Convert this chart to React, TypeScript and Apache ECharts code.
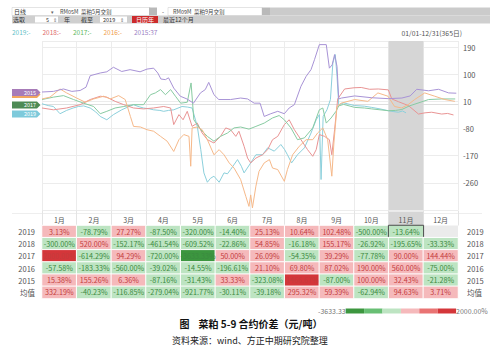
import React, { useEffect, useRef } from 'react';
import * as echarts from 'echarts';

const MONTHS = ['1月', '2月', '3月', '4月', '5月', '6月', '7月', '8月', '9月', '10月', '11月', '12月'];
const ROWS = ['2019', '2018', '2017', '2016', '2015', '均值'];
const P2019 = [3.13, -78.79, 27.27, -87.5, -320, -14.4, 25.13, 10.64, 102.48, -500, -13.64, null];
const P2018 = [-300, 520, -152.17, -461.54, -609.52, -22.86, 54.85, -16.18, 155.17, -26.92, -195.65, -33.33];
const P2017 = [2000, -614.29, 94.29, -720, -3633.33, 50, 26.09, -54.35, 39.29, -77.78, 90, 144.44];
const P2016 = [-57.58, -183.33, -560, -39.02, -14.55, -196.61, 21.1, 69.8, 87.02, 190, 560, -75];
const P2015 = [15.38, 155.26, 6.36, -87.16, -31.43, 33.33, -323.08, 1466.67, -87, 100, 32.43, -21.28];
const PAVG = [332.19, -40.23, -116.85, -279.04, -921.77, -30.11, -39.18, 295.32, 59.39, -62.94, 94.63, 3.71];

const YEARS = ['2019', '2018', '2017', '2016', '2015'];
const LEGEND_VALUES = ['-', '-', '-', '-', '37'];
const LINE_COLORS = ['#8cd0dc', '#e99494', '#88cba2', '#f6b98a', '#a893d6'];
const LEGEND_COLORS = ['#5fbfc8', '#e06b6b', '#5db85d', '#f0a050', '#9b7fc4'];

// x = month position (0 = 1 Jan, 12 = 31 Dec), y = spread (元/吨)
const S2019 = [[0, 2], [0.18, -4], [0.33, -7], [0.52, -31], [0.71, -20], [0.9, -12], [1.05, -7], [1.2, -5], [1.39, -12], [1.55, -25], [1.68, -40], [1.87, -51], [2.06, -34], [2.3, -18], [2.45, -10], [2.64, -1], [2.8, -8], [2.93, -12], [3.1, -15], [3.22, -18], [3.4, -20], [3.51, -23], [3.65, -20], [3.8, -18], [4.04, -7], [4.2, -9], [4.33, -12], [4.48, -73], [4.58, -150], [4.67, -227], [4.77, -258], [4.86, -245], [4.96, -238], [5.11, -258], [5.25, -227], [5.35, -230], [5.44, -216], [5.64, -183], [5.75, -205], [5.83, -227], [6.02, -194], [6.17, -167], [6.36, -167], [6.51, -144], [6.7, -155], [6.89, -133], [7.0, -150], [7.08, -167], [7.2, -194], [7.37, -167], [7.57, -144], [7.76, -95], [7.91, -51], [8.0, -34], [8.05, -249], [8.11, -40], [8.22, -18], [8.32, 16], [8.39, 137], [8.46, 165], [8.51, 93], [8.56, -2], [8.7, 5], [9.02, -4], [9.3, -6], [9.51, -10], [9.75, -15], [9.99, -21], [10.15, -24], [10.28, -26], [10.4, -22], [10.5, -28]];
const S2018 = [[0, -12], [0.33, -18], [0.71, -12], [1.1, -1], [1.39, 16], [1.68, 27], [1.87, 24], [2.11, 10], [2.36, -1], [2.64, -12], [2.93, -15], [3.22, -12], [3.51, -7], [3.71, -12], [3.8, -67], [3.95, -34], [4.07, -51], [4.19, -23], [4.33, -73], [4.48, -62], [4.62, -95], [4.77, -117], [4.96, -128], [5.15, -106], [5.3, -78], [5.44, -84], [5.59, -106], [5.68, -89], [5.83, -139], [5.93, -178], [6.02, -194], [6.17, -178], [6.36, -167], [6.51, -150], [6.65, -117], [6.8, -106], [6.99, -67], [7.13, -51], [7.28, -84], [7.47, -117], [7.66, -150], [7.81, -172], [7.91, -150], [8.0, -100], [8.15, -106], [8.29, -117], [8.36, -167], [8.44, -84], [8.53, 18], [8.73, 51], [9.0, 55], [9.21, 56], [9.45, 50], [9.7, 51], [9.99, 48], [10.09, 18], [10.28, 9], [10.57, -4], [10.86, -32], [11.05, -28], [11.24, -26], [11.53, -32], [11.7, -30], [11.87, -35]];
const S2017 = [[0, 16], [0.33, 24], [0.62, 29], [0.91, 16], [1.2, 4], [1.49, -7], [1.68, -31], [1.87, -23], [2.11, -12], [2.36, -7], [2.64, -1], [2.93, -1], [3.13, 32], [3.27, 38], [3.42, 49], [3.56, 32], [3.71, 49], [3.85, 27], [4.0, 4], [4.19, 7], [4.3, 71], [4.38, -51], [4.58, -84], [4.77, -106], [4.96, -122], [5.15, -106], [5.35, -95], [5.54, -78], [5.73, -75], [5.97, -82], [6.17, -73], [6.41, -62], [6.65, -45], [6.84, -37], [6.99, -51], [7.18, -78], [7.37, -117], [7.57, -111], [7.81, -78], [8.0, -18], [8.1, -12], [8.2, -62], [8.34, -45], [8.48, -23], [8.56, -5], [8.7, 0], [9.02, -10], [9.3, -12], [9.51, -15], [9.99, -21], [10.2, -20], [10.38, -17], [10.6, -5], [10.76, 1], [11.15, 16], [11.53, 18], [11.92, 18]];
const S2016 = [[0, 18], [0.23, 24], [0.52, 51], [0.71, 38], [1.0, 21], [1.25, 7], [1.49, 18], [1.78, 27], [1.97, 18], [2.21, 29], [2.4, 16], [2.55, -40], [2.64, -73], [2.84, -75], [3.03, -84], [3.22, -89], [3.42, -106], [3.61, -122], [3.8, -156], [3.95, -117], [4.09, -100], [4.24, -106], [4.29, -205], [4.33, -78], [4.48, -75], [4.62, -84], [4.77, -117], [4.96, -167], [5.11, -150], [5.25, -167], [5.4, -194], [5.54, -211], [5.73, -249], [5.88, -305], [5.97, -338], [6.02, -300], [6.07, -343], [6.17, -271], [6.26, -222], [6.41, -194], [6.56, -183], [6.65, -211], [6.8, -216], [6.99, -255], [7.08, -216], [7.23, -167], [7.42, -139], [7.62, -117], [7.81, -117], [7.95, -95], [8.1, -78], [8.24, -117], [8.36, -238], [8.42, -128], [8.51, -7], [8.63, 4], [9.02, 16], [9.4, 10], [9.69, 38], [9.98, 27], [10.17, -7], [10.37, -12], [10.56, -1], [10.75, 16], [11.04, 38], [11.33, 27], [11.62, 16], [11.91, 10]];
const S2015 = [[0, 41], [0.33, 43], [0.62, 51], [0.86, 43], [1.1, 46], [1.27, 57], [1.39, 95], [1.68, 104], [1.87, 108], [2.06, 123], [2.3, 109], [2.54, 115], [2.83, 108], [3.03, 117], [3.22, 120], [3.34, 104], [3.43, 84], [3.56, 82], [3.65, 88], [3.8, 54], [3.99, 27], [4.18, 18], [4.37, 4], [4.57, 38], [4.71, 49], [4.81, 73], [4.96, 32], [5.1, 16], [5.44, 16], [5.73, 21], [5.93, 18], [6.12, 4], [6.29, 4], [6.41, -40], [6.6, -31], [6.8, -23], [6.99, -31], [7.13, -12], [7.28, -1], [7.47, 60], [7.62, 93], [7.76, 115], [7.86, 148], [8.0, 198], [8.2, 198], [8.29, 120], [8.37, 131], [8.44, 165], [8.51, 126], [8.56, 18], [8.64, 21], [9.02, 28], [9.51, 22], [9.99, 19], [10.38, 21], [10.62, 28], [10.81, 50], [11.15, 45], [11.44, 50], [11.73, 38], [11.95, 37]];
const SERIES = [S2019, S2018, S2017, S2016, S2015];

const Y_MIN = -350;
const Y_MAX = 210;
const Y_STEP = 90;

const TABLE = [P2019, P2018, P2017, P2016, P2015, PAVG];

const FONT = '"Noto Sans CJK SC", "Noto Sans", sans-serif';

function txt(text: string, x: number, y: number, size: number, fill: string, extra: any = {}) {
  return {
    type: 'text',
    silent: true,
    style: { text, x, y, fontSize: size, fontFamily: FONT, fill, textVerticalAlign: 'middle', ...extra },
  };
}

function tag(label: string, y: number, color: string) {
  const children: any[] = [
    { type: 'polygon', shape: { points: [[12, y - 3.5], [37, y - 3.5], [40.5, y], [37, y + 3.5], [12, y + 3.5]] }, style: { fill: color } },
  ];
  if (label) children.push(txt(label, 30, y, 5.5, '#fff', { textAlign: 'center' }));
  return { type: 'group', silent: true, children };
}

export default function App() {
  const ref = useRef<HTMLDivElement>(null);
  useEffect(() => {
    if (!ref.current) return;
    const chart = echarts.init(ref.current, undefined, { renderer: 'svg' });

    const heatData: any[] = [];
    TABLE.forEach((row, r) => {
      row.forEach((v, c) => {
        if (v == null) return;
        const item: any = { value: [c, r, v], label: { color: v >= 0 ? '#c43c3c' : '#3b8a40' } };
        if (r === 0 && c === 10) item.itemStyle = { borderColor: '#4d4d4d', borderWidth: 1 };
        heatData.push(item);
      });
    });

    const lineSeries = SERIES.map((data, i) => ({
      name: YEARS[i],
      type: 'line',
      xAxisIndex: 0,
      yAxisIndex: 0,
      data,
      showSymbol: false,
      symbol: 'none',
      silent: true,
      z: 3,
      lineStyle: { width: 1, color: LINE_COLORS[i] },
      itemStyle: { color: LINE_COLORS[i] },
    }));

    const option: any = {
      animation: false,
      textStyle: { fontFamily: FONT },
      grid: [
        { left: 42, right: 42, top: 41, height: 169 },
        { left: 42, right: 42, top: 225.5, height: 73, show: true, backgroundColor: '#ebebeb', borderWidth: 0 },
      ],
      legend: {
        left: 7,
        top: 28.5,
        padding: 0,
        itemWidth: 0,
        itemHeight: 0,
        itemGap: 7,
        selectedMode: false,
        data: YEARS.map((y, i) => ({ name: y, icon: 'rect', textStyle: { color: LEGEND_COLORS[i], fontSize: 6.5 } })),
        formatter: (name: string) => name + ':' + LEGEND_VALUES[YEARS.indexOf(name)],
      },
      xAxis: [
        {
          type: 'value', gridIndex: 0, min: 0, max: 12, interval: 1,
          axisLabel: { show: false }, axisTick: { show: false },
          axisLine: { show: true, lineStyle: { color: '#dedede' } },
          splitLine: { show: true, lineStyle: { color: '#ececec' } },
        },
        {
          type: 'category', gridIndex: 1, data: MONTHS, position: 'top',
          axisLine: { show: false },
          axisTick: { show: true, length: 15, lineStyle: { color: '#e4e4e4' } },
          axisLabel: {
            margin: 0, interval: 0,
            formatter: (v: string) => (v === '11月' ? `{hl|${v}}` : `{n|${v}}`),
            rich: {
              hl: { backgroundColor: '#d6d6d6', width: 34.6, height: 13, lineHeight: 13, padding: [2, 0, 0, 0], align: 'center', fontSize: 7, color: '#555', fontFamily: FONT },
              n: { width: 34.6, height: 13, lineHeight: 13, padding: [2, 0, 0, 0], align: 'center', fontSize: 7, color: '#555', fontFamily: FONT },
            },
          },
        },
      ],
      yAxis: [
        {
          type: 'value', gridIndex: 0, position: 'right', min: Y_MIN, max: Y_MAX, interval: Y_STEP,
          axisLine: { show: false }, axisTick: { show: false },
          splitLine: { show: true, lineStyle: { color: '#ececec' } },
          axisLabel: { fontSize: 7.5, color: '#555', margin: 5, showMinLabel: false, showMaxLabel: false },
        },
        {
          type: 'category', gridIndex: 1, data: ROWS, inverse: true,
          axisLine: { show: false }, axisTick: { show: false },
          axisLabel: { fontSize: 7.5, color: '#555', margin: 7 },
        },
        {
          type: 'category', gridIndex: 1, data: ROWS, inverse: true, position: 'right',
          axisLine: { show: false }, axisTick: { show: false },
          axisLabel: { fontSize: 7.5, color: '#555', margin: 9 },
        },
      ],
      visualMap: {
        type: 'piecewise',
        seriesIndex: 6,
        dimension: 2,
        orient: 'horizontal',
        left: 318,
        top: 307.5,
        padding: 0,
        itemWidth: 18.4,
        itemHeight: 5,
        itemGap: 0,
        itemSymbol: 'rect',
        textGap: 1,
        showLabel: false,
        selectedMode: false,
        text: ['2000.00%', '-3633.33'],
        textStyle: { fontSize: 7, color: '#777' },
        pieces: [
          { gte: -4000, lt: -2422, color: '#3c963f' },
          { gte: -2422, lt: -1211, color: '#68bf74' },
          { gte: -1211, lt: 0, color: '#bde4c2' },
          { gte: 0, lt: 667, color: '#f5b9bb' },
          { gte: 667, lt: 1333, color: '#e97373' },
          { gte: 1333, lte: 2100, color: '#d4363a' },
        ],
      },
      series: [
        ...lineSeries,
        {
          type: 'line', xAxisIndex: 0, yAxisIndex: 0, data: [], silent: true, z: 1,
          markArea: { silent: true, itemStyle: { color: '#d6d6d6' }, data: [[{ xAxis: 10 }, { xAxis: 11 }]] },
        },
        {
          type: 'heatmap', xAxisIndex: 1, yAxisIndex: 1, data: heatData, silent: true,
          itemStyle: { borderColor: '#ffffff', borderWidth: 1 },
          label: {
            show: true, fontSize: 7.2, fontFamily: FONT,
            formatter: (p: any) => p.value[2].toFixed(2) + '%',
          },
        },
      ],
      graphic: [
        // toolbar row 1
        { type: 'rect', silent: true, shape: { x: 12, y: 7.5, width: 138, height: 8 }, style: { fill: '#fff', stroke: '#c8c8c8', lineWidth: 0.5 } },
        txt('日线', 14, 11.5, 6, '#333'),
        txt('▾', 51, 11.5, 5, '#666'),
        txt('RM05M  菜粕5月交割', 60, 11.5, 5.5, '#444'),
        { type: 'rect', silent: true, shape: { x: 149, y: 7.5, width: 8, height: 8 }, style: { fill: '#b9b9b9' } },
        txt('-', 162, 11.5, 6, '#444'),
        { type: 'rect', silent: true, shape: { x: 168, y: 7.5, width: 94, height: 8 }, style: { fill: '#fff', stroke: '#c8c8c8', lineWidth: 0.5 } },
        txt('RM09M  菜粕9月交割', 173, 11.5, 5.5, '#444'),
        { type: 'rect', silent: true, shape: { x: 262, y: 7.5, width: 8, height: 8 }, style: { fill: '#b9b9b9' } },
        { type: 'rect', silent: true, shape: { x: 270, y: 7.5, width: 220, height: 8 }, style: { fill: '#cbcbcb' } },
        // toolbar row 2
        { type: 'rect', silent: true, shape: { x: 12, y: 15.5, width: 478, height: 8 }, style: { fill: '#cfcfcf' } },
        txt('选取', 13, 19.5, 6, '#333'),
        { type: 'rect', silent: true, shape: { x: 35, y: 16.5, width: 23, height: 6 }, style: { fill: '#fff' } },
        txt('5', 46, 19.5, 5.5, '#333'),
        txt('⇕', 53, 19.5, 5, '#777'),
        txt('年', 64, 19.5, 6, '#333'),
        txt('截至', 81, 19.5, 6, '#333'),
        { type: 'rect', silent: true, shape: { x: 100, y: 16.5, width: 27, height: 6 }, style: { fill: '#fff' } },
        txt('2019', 103, 19.5, 5.5, '#333'),
        txt('⇕', 120, 19.5, 5, '#777'),
        { type: 'rect', silent: true, shape: { x: 132, y: 16, width: 26, height: 7 }, style: { fill: '#cc2b2b' } },
        txt('日历年', 145, 19.5, 6, '#fff', { textAlign: 'center' }),
        txt('最近12个月', 163, 19.5, 6, '#333'),
        // date range
        txt('01/01-12/31(365日)', 462, 33, 6.8, '#555', { textAlign: 'right' }),
        // left tags (2016 tag mostly hidden under 2015)
        tag('', 94.5, '#f2a65f'),
        tag('2015', 92.5, '#a77bb8'),
        tag('2017', 105, '#4e8b55'),
        tag('2019', 114, '#7ecadb'),
        // separator
        { type: 'line', silent: true, shape: { x1: 12, y1: 213.5, x2: 482, y2: 213.5 }, style: { stroke: '#e2e2e2', lineWidth: 0.6 } },
        // captions
        txt('图    菜粕 5-9 合约价差（元/吨）', 251, 323, 10, '#111', { textAlign: 'center', fontWeight: 'bold' }),
        txt('资料来源：wind、方正中期研究院整理', 250, 340.5, 9, '#222', { textAlign: 'center' }),
      ],
    };

    chart.setOption(option);
    return () => chart.dispose();
  }, []);

  return <div ref={ref} style={{ position: 'fixed', left: 0, top: 0, width: 500, height: 352, background: '#fff' }} />;
}
